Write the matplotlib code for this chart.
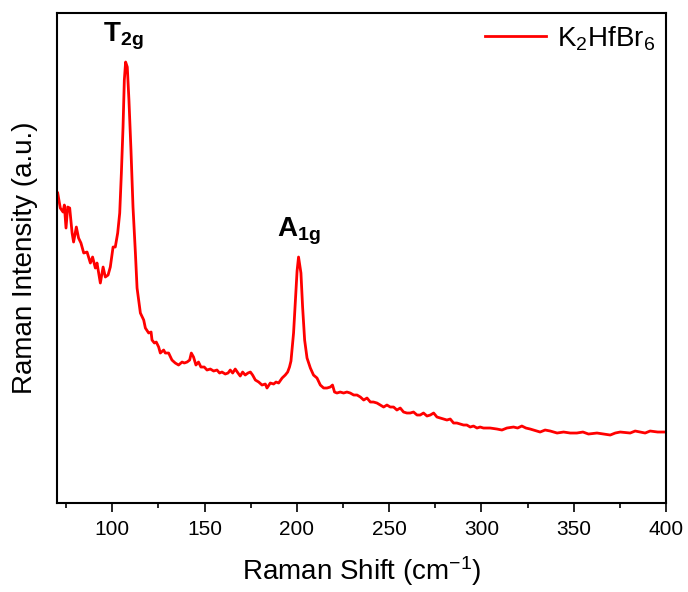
import numpy as np
import matplotlib
matplotlib.use('Agg')
import matplotlib.pyplot as plt

plt.rcParams['font.family'] = ['Liberation Sans', 'DejaVu Sans']
plt.rcParams['mathtext.fontset'] = 'custom'
plt.rcParams['mathtext.rm'] = 'Liberation Sans'
plt.rcParams['mathtext.it'] = 'Liberation Sans:italic'
plt.rcParams['mathtext.bf'] = 'Liberation Sans:bold'

# Raman spectrum of K2HfBr6 (intensity in arbitrary units)
shift = [70.4, 71.8, 73.3, 74.0, 74.9, 75.8, 76.9, 78.2, 79.0, 80.5,
         81.7, 83.0, 84.5, 86.3, 88.1, 89.3, 90.8, 91.7, 93.5, 95.0,
         96.2, 97.7, 98.9, 100.4, 101.6, 102.9, 104.0, 104.9, 105.8, 106.5,
         107.2, 108.1, 109.0, 110.1, 111.2, 112.5, 113.4, 115.2, 117.0, 117.9,
         119.7, 121.0, 121.5, 122.8, 123.8, 125.1, 126.0, 127.8, 128.7, 130.5,
         132.3, 134.1, 135.9, 137.8, 139.0, 140.5, 141.9, 142.8, 144.0, 145.3,
         146.7, 148.0, 149.8, 151.3, 153.1, 154.9, 156.7, 158.1, 159.4, 161.2,
         162.7, 163.9, 165.2, 166.6, 168.1, 169.3, 170.6, 172.0, 173.5, 174.8,
         176.0, 177.5, 179.3, 181.1, 182.9, 183.8, 185.6, 187.4, 188.7, 190.1,
         192.0, 193.7, 195.0, 196.0, 196.8, 197.3, 198.2, 199.1, 200.1, 200.9,
         202.2, 203.1, 204.2, 205.5, 207.3, 209.0, 210.9, 212.7, 214.5, 216.3,
         218.1, 219.3, 220.4, 221.7, 223.5, 225.3, 227.1, 228.9, 230.8, 232.6,
         234.4, 236.2, 238.0, 239.8, 241.5, 243.4, 245.2, 247.0, 248.8, 250.6,
         252.4, 254.2, 256.0, 257.8, 259.6, 261.4, 263.2, 265.1, 266.8, 268.6,
         270.5, 272.3, 274.1, 275.9, 277.7, 279.5, 281.3, 283.1, 284.9, 286.7,
         288.5, 290.3, 292.1, 293.9, 295.7, 297.6, 299.3, 301.1, 304.7, 308.4,
         311.1, 313.8, 317.4, 319.6, 321.9, 324.1, 326.4, 331.8, 334.5, 337.3,
         341.0, 344.5, 348.1, 351.7, 355.0, 358.0, 362.6, 366.2, 369.8, 372.5,
         375.2, 380.6, 383.3, 386.0, 388.7, 391.4, 395.5, 399.6]
intensity = [310, 295, 291, 298, 275, 296, 295, 270, 261, 276,
             265, 260, 250, 251, 240, 246, 235, 240, 220, 236,
             226, 228, 236, 256, 256, 270, 290, 330, 376, 423,
             441, 436, 403, 353, 296, 250, 215, 190, 183, 175,
             170, 171, 163, 160, 161, 156, 150, 153, 150, 150,
             143, 140, 138, 141, 140, 141, 143, 150, 146, 138,
             141, 136, 136, 133, 134, 132, 133, 130, 131, 129,
             130, 133, 130, 134, 130, 127, 131, 128, 130, 131,
             128, 123, 121, 118, 119, 115, 120, 119, 121, 120,
             125, 128, 131, 136, 142, 152, 170, 200, 232, 246,
             230, 196, 163, 145, 135, 128, 125, 118, 115, 115,
             116, 118, 111, 110, 111, 110, 111, 110, 108, 108,
             106, 103, 105, 101, 101, 100, 98, 96, 98, 96,
             96, 93, 95, 91, 90, 90, 91, 88, 88, 90,
             87, 88, 90, 86, 85, 84, 83, 84, 80, 80,
             79, 78, 78, 76, 77, 75, 76, 75, 75, 74,
             73, 75, 76, 75, 77, 75, 74, 71, 73, 72,
             70, 71, 70, 70, 71, 69, 70, 69, 68, 70,
             71, 70, 72, 71, 70, 72, 71, 71]

fig = plt.figure(figsize=(6.88, 5.92), dpi=100)
ax = fig.add_axes([0.0828, 0.1503, 0.8852, 0.8277])

ax.plot(shift, intensity, color='red', lw=2.0, label=r'K$_2$HfBr$_6$')

ax.set_xlim(70, 400)
ax.set_ylim(0, 490)
ax.set_xticks([100, 150, 200, 250, 300, 350, 400])
ax.set_xticks([75, 125, 175, 225, 275, 325, 375], minor=True)
ax.set_yticks([])
ax.tick_params(axis='x', which='major', direction='out', length=6.5, width=1.2,
               labelsize=15, pad=6)
ax.tick_params(axis='x', which='minor', direction='out', length=3.6, width=1.2)
for s in ax.spines.values():
    s.set_linewidth(1.5)

ax.set_xlabel(r'Raman Shift (cm$^{-1}$)', fontsize=20, labelpad=11)
ax.set_ylabel('Raman Intensity (a.u.)', fontsize=20, labelpad=14)

ax.text(105.7, 451, r'$\mathbf{T_{2g}}$', fontsize=20, ha='center', va='bottom')
ax.text(201.3, 256, r'$\mathbf{A_{1g}}$', fontsize=20, ha='center', va='bottom')

ax.legend(loc='upper right', bbox_to_anchor=(1.0, 1.0), frameon=False,
          fontsize=20, handlelength=2.2, handletextpad=0.4, borderaxespad=0.0)

fig.savefig('out.png', dpi=100)
